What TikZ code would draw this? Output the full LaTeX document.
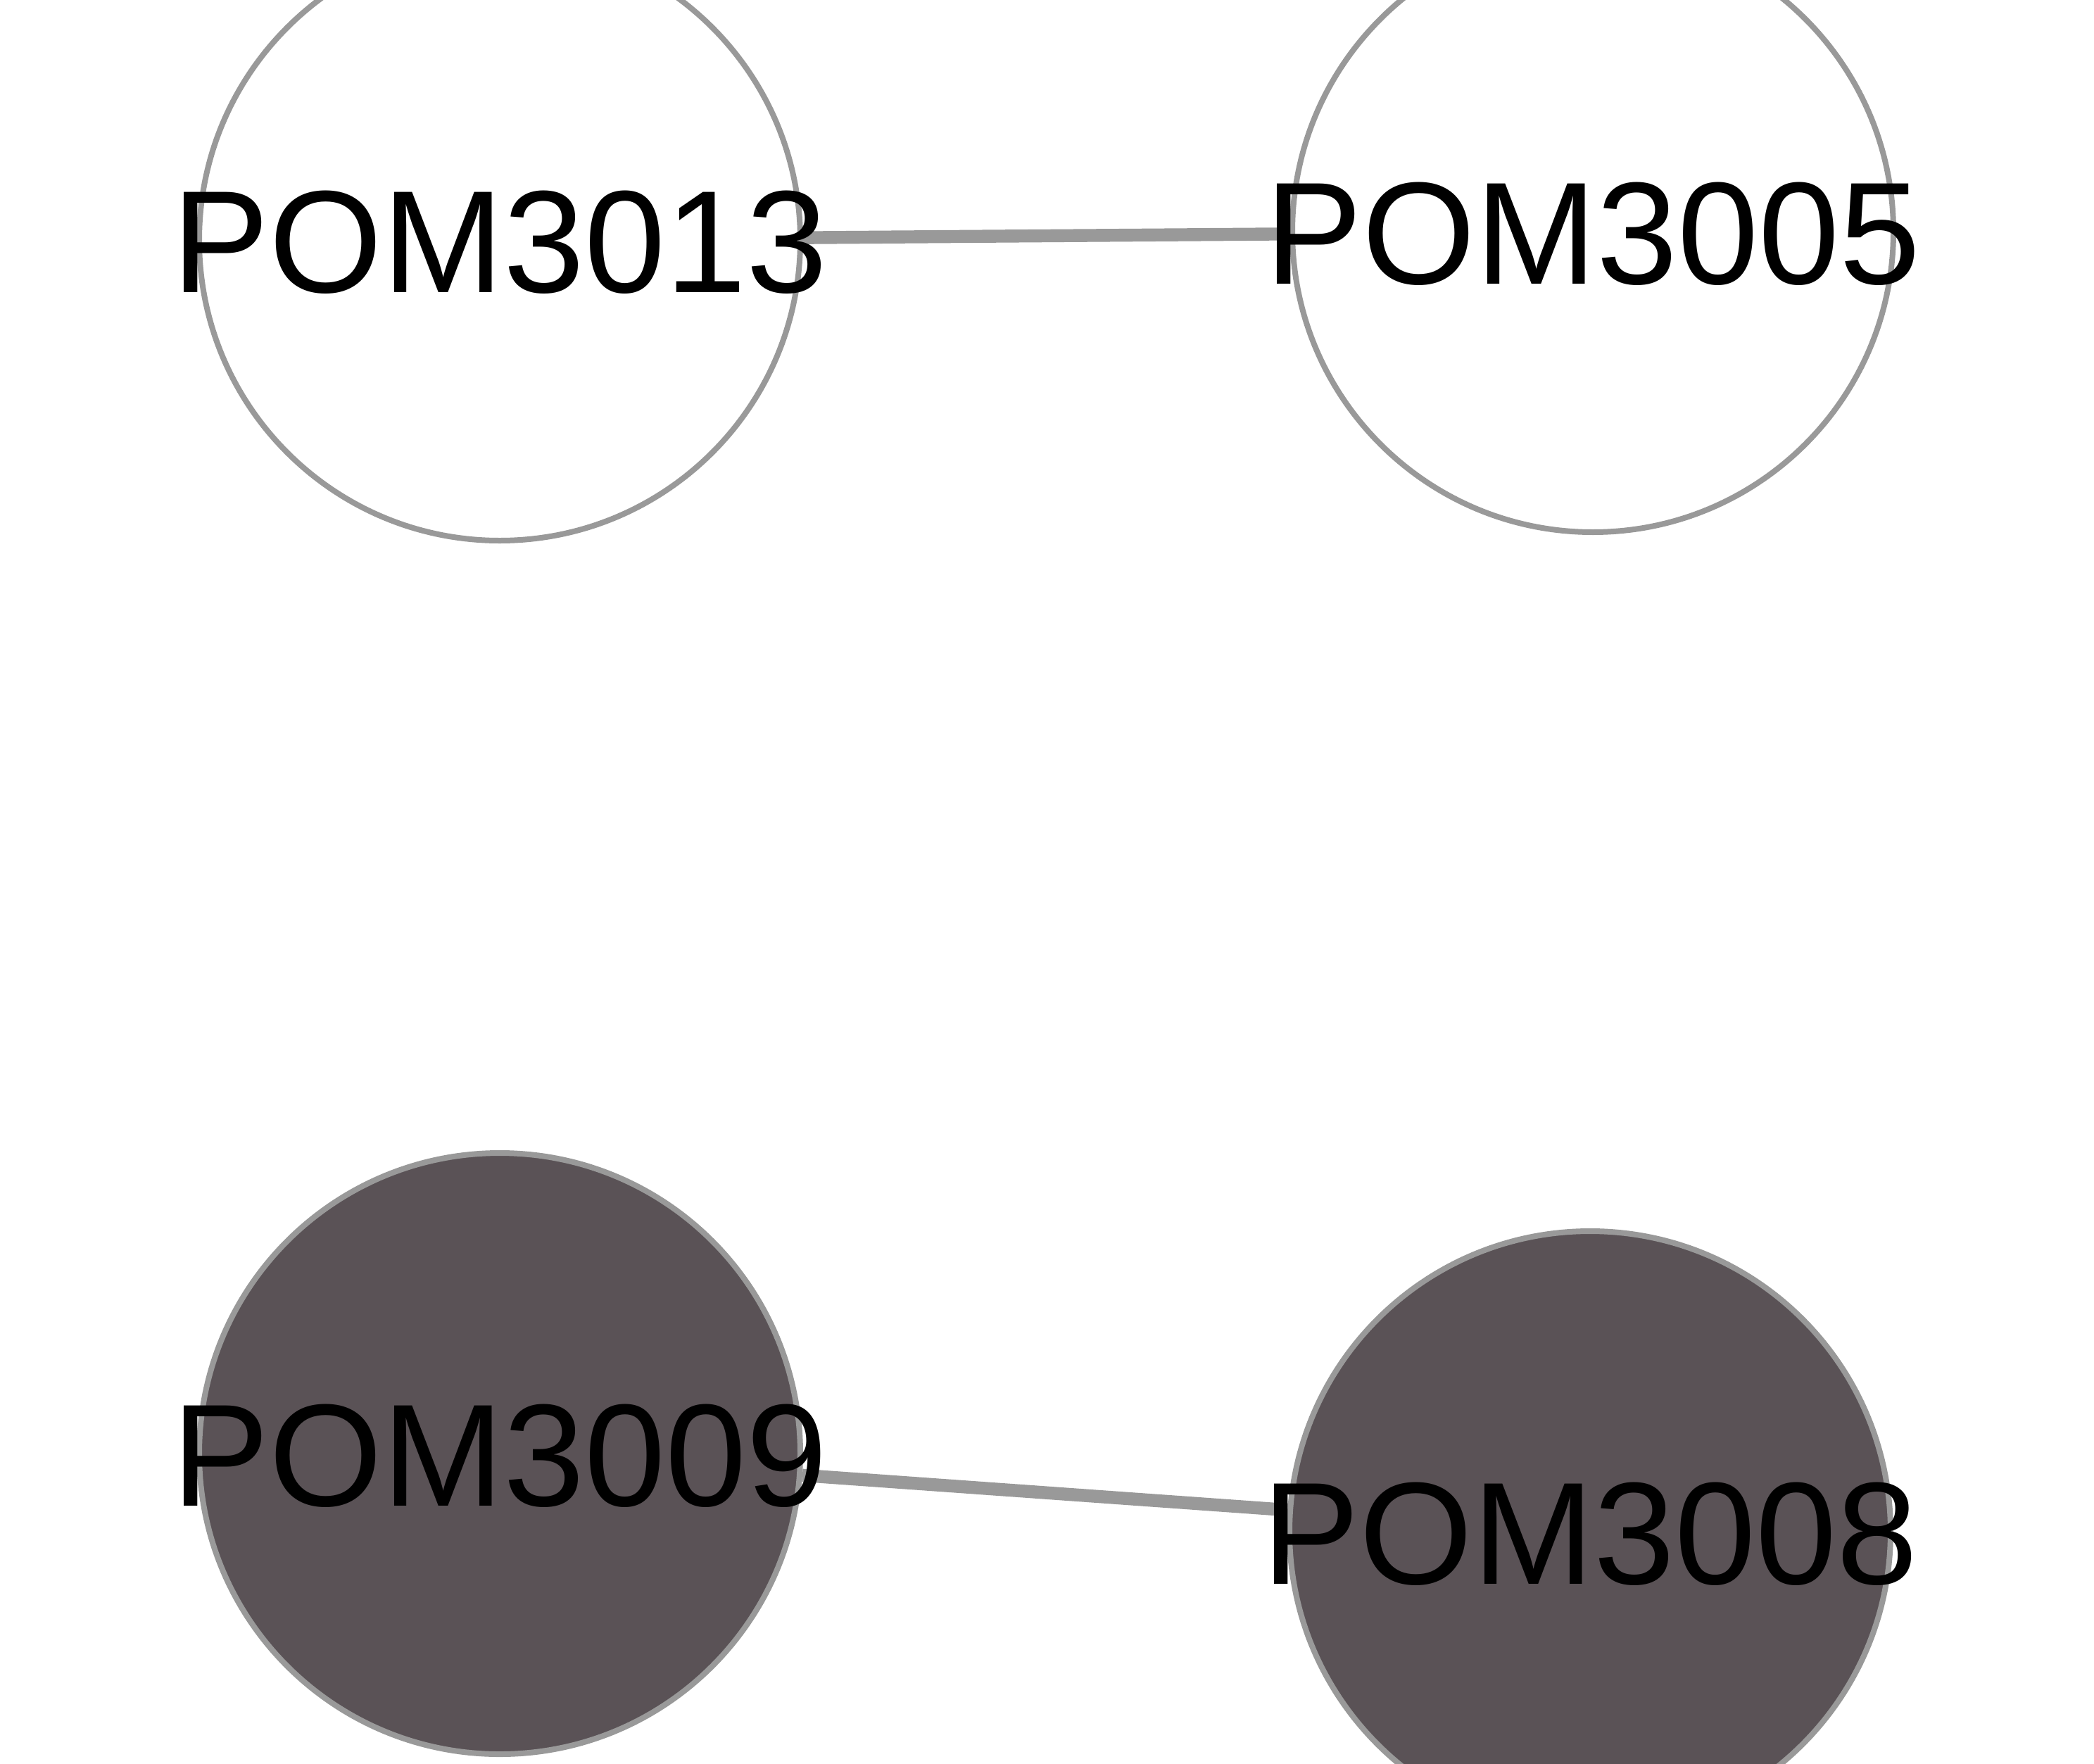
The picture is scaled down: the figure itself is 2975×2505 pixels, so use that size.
\documentclass[tikz,border=0pt]{standalone}
\usepackage{fontspec}
\setmainfont{Liberation Sans}
\usetikzlibrary{backgrounds}
\definecolor{edgegray}{HTML}{999999}
\definecolor{nodedark}{RGB}{90,82,86}
\begin{document}
\begin{tikzpicture}[x=0.25pt,y=-0.25pt,
  vertex/.style={circle,draw=edgegray,line width=2pt,minimum size=213.5pt,inner sep=0pt,
    text height=37.1pt,text depth=0pt,font=\fontsize{51.75}{60}\selectfont},
  lightv/.style={vertex,fill=white},
  darkv/.style={vertex,fill=nodedark},
  link/.style={draw=edgegray,line width=4.6pt}]
\useasboundingbox (0,0) rectangle (2975,2505);
\node[lightv] (p3013) at (710,341) {\makebox[0pt]{POM3013}};
\node[lightv] (p3005) at (2263,329) {\makebox[0pt]{POM3005}};
\node[darkv] (p3009) at (710,2065) {\makebox[0pt]{POM3009}};
\node[darkv] (p3008) at (2259,2176) {\makebox[0pt]{POM3008}};
\begin{scope}[on background layer]
\fill[white] (0,0) rectangle (2975,2505);
\draw[link] (p3013) -- (p3005);
\draw[link] (p3009) -- (p3008);
\end{scope}
\end{tikzpicture}
\end{document}
